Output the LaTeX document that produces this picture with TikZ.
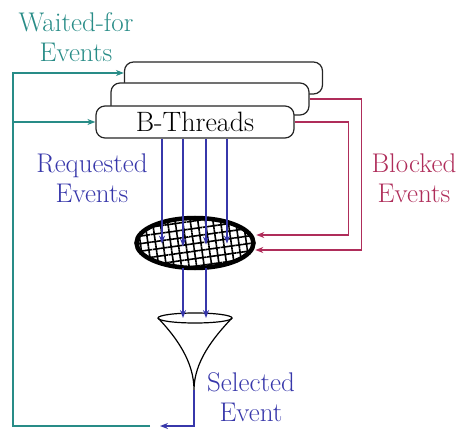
\documentclass[tikz,border=0pt]{standalone}
\usetikzlibrary{shapes.geometric,patterns.meta,arrows.meta,calc}
\definecolor{tealc}{RGB}{40,140,135}
\definecolor{bluec}{RGB}{55,55,170}
\definecolor{redc}{RGB}{175,45,90}
\tikzset{
  bt/.style={draw=black!85,line width=1.2pt,rounded corners=9pt,fill=white,minimum width=198pt,minimum height=32pt,inner sep=0pt},
  lbl/.style={align=center,font=\fontsize{27}{30}\selectfont,inner sep=0pt},
  tarr/.style={draw=tealc,line width=1.5pt,-{Stealth[length=8pt,width=6pt]}},
  barr/.style={draw=bluec,line width=1.3pt,-{Stealth[length=8pt,width=6pt]}},
  rarr/.style={draw=redc,line width=1.5pt,-{Stealth[length=8pt,width=6pt]}},
}
\begin{document}
\begin{tikzpicture}[x=1pt,y=-1pt]
\useasboundingbox (0,0) rectangle (457,430);
% B-thread boxes
\node[bt] (back) at (223.5,78) {};
\node[bt] (mid) at (210,99) {};
\node[bt,font=\fontsize{28}{30}\selectfont] (front) at (195,122) {B-Threads};
% ellipse
\node[ellipse,draw=black,line width=4.5pt,minimum width=117pt,minimum height=50pt,
  pattern={Hatch[angle=8,distance=7.5pt,line width=1.6pt]}] (ell) at (195,243) {};
% funnel
\coordinate (ftop) at (195,318);
\coordinate (tip) at (194,390);
\draw[line width=1.2pt] (ftop) ellipse [x radius=37pt,y radius=5pt];
\draw[line width=1.2pt] ($(ftop)+(-37,0)$) .. controls ($(ftop)+(-18,20)$) and ($(tip)+(0,-28)$) .. (tip)
  .. controls ($(tip)+(0,-28)$) and ($(ftop)+(18,20)$) .. ($(ftop)+(37,0)$);
% labels
\node[lbl,text=tealc] (wait) at (76,37) {Waited-for\\Events};
\node[lbl,text=bluec] (req) at (92,178) {Requested\\Events};
\node[lbl,text=redc] (blk) at (414,178) {Blocked\\Events};
\node[lbl,text=bluec] (sel) at (251,397) {Selected\\Event};
% requested events
\foreach \dx/\len in {-33/105,-12/108,11/106,32/105}{
  \draw[barr] ($(front.south)+(\dx,0)$) -- ++(0,\len);
}
\foreach \dx in {-12,11}{
  \draw[barr] ($(ell.south)+(\dx,-1)$) -- ($(ftop)+(\dx,0)$);
}
% blocked events
\draw[rarr] (front.east) -- ++(54,0) |- ($(ell.east)+(2,-8)$);
\draw[rarr] (mid.east) -- ++(52,0) |- ($(ell.east)+(1,7)$);
% selected event
\coordinate (selend) at (160,426);
\coordinate (wstart) at (150,426);
\draw[barr] (tip) |- (selend);
% waited-for events
\coordinate (corner) at (13,426);
\draw[tarr] (wstart) -- (corner) |- ($(back.west)+(0,-5)$);
\draw[tarr] (corner |- front.west) -- (front.west);
\end{tikzpicture}
\end{document}
